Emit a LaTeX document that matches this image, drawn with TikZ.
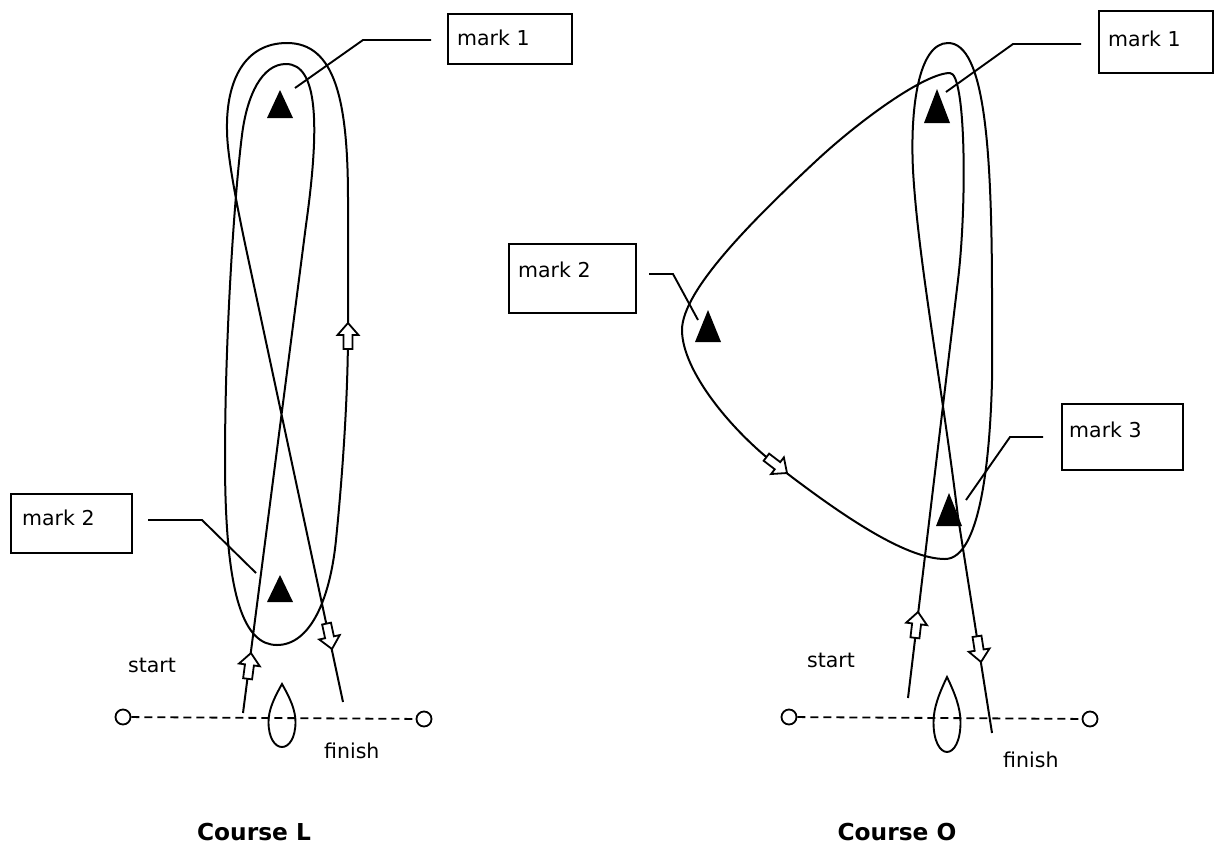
\documentclass[tikz,border=0pt]{standalone}
\usepackage{fontspec}
\setmainfont{DejaVu Sans}
\tikzset{
  course/.style={line width=2pt, line join=round},
  mbox/.style={draw, line width=1.9pt, anchor=north west, inner sep=0pt},
  lbl/.style={anchor=west, inner sep=0pt, font=\fontsize{20.5}{24}\selectfont},
  ttl/.style={inner sep=0pt, font=\fontsize{23.3}{28}\selectfont\bfseries},
  leader/.style={line width=1.9pt},
  buoy/.style={draw, circle, line width=1.8pt, minimum size=15pt, inner sep=0pt, fill=white},
  startline/.style={line width=1.8pt, dash pattern=on 8pt off 5pt},
  blockarr/.pic={\draw[line width=1.8pt, fill=white, line join=miter] (0,0) -- (-12,-10.5) -- (-12,-4.5) -- (-26,-4.5) -- (-26,4.5) -- (-12,4.5) -- (-12,10.5) -- cycle;},
  boat/.pic={\draw[line width=1.9pt] (0,0) .. controls (-8,14) and (-13.5,26) .. (-13.5,38) .. controls (-13.5,54) and (-7,63) .. (0,63) .. controls (7,63) and (13.5,54) .. (13.5,38) .. controls (13.5,26) and (8,14) .. (0,0) -- cycle;}
}
\begin{document}
\begin{tikzpicture}[x=1pt,y=-1pt]
\useasboundingbox (0,0) rectangle (1214,846);

% ================= Course L =================
\node[buoy] (lsA) at (123,717) {};
\node[buoy] (lsB) at (424,719) {};
\draw[startline] (lsA) -- (lsB);
\pic at (282,684) {boat};

\fill (280,90) -- (293,118) -- (267,118) -- cycle;
\fill (280,575) -- (293,602) -- (267,602) -- cycle;

\coordinate (Ls) at (243,713);
\coordinate (Lf) at (343,702);
\draw[course] (Ls) -- (306,225)
  .. controls (320,125) and (318,64) .. (286,64)
  .. controls (262,64) and (247,95) .. (242,135)
  .. controls (235,190) and (225,330) .. (225,460)
  .. controls (225,600) and (245,645) .. (277,645)
  .. controls (310,645) and (330,600) .. (336,540)
  .. controls (342,480) and (348,400) .. (348,330)
  -- (348,200)
  .. controls (348,100) and (335,43) .. (287,43)
  .. controls (245,43) and (226,80) .. (227,130)
  .. controls (227,160) and (241.4,227) .. (250,267)
  -- (Lf);

\pic[rotate=82.5] at (251,653) {blockarr};
\pic[rotate=90] at (348,323) {blockarr};
\pic[rotate=-77.9] at (332,649) {blockarr};

\node[mbox, minimum width=124pt, minimum height=50pt] (lm1box) at (447,13) {};
\node[lbl] (lm1txt) at (457,38) {mark 1};
\coordinate (lm1a) at (295,88);
\coordinate (lm1b) at (363,40);
\coordinate (lm1c) at (431,40);
\draw[leader] (lm1a) -- (lm1b) -- (lm1c);

\node[mbox, minimum width=121pt, minimum height=59pt] (lm2box) at (10,493) {};
\node[lbl] (lm2txt) at (22,518) {mark 2};
\coordinate (lm2a) at (148,520);
\coordinate (lm2b) at (202,520);
\coordinate (lm2c) at (256,573);
\draw[leader] (lm2a) -- (lm2b) -- (lm2c);

\node[lbl] (lstart) at (128,665) {start};
\node[lbl] (lfinish) at (324,751) {finish};
\node[ttl] (ltitle) at (254,832) {Course L};

% ================= Course O =================
\node[buoy] (rsA) at (789,717) {};
\node[buoy] (rsB) at (1090,719) {};
\draw[startline] (rsA) -- (rsB);
\pic[yscale=1.19] at (947,677) {boat};

\fill (937,89) -- (950,123) -- (924,123) -- cycle;
\fill (708,310) -- (721,342) -- (695,342) -- cycle;
\fill (949,493) -- (962,526) -- (936,526) -- cycle;

\coordinate (Rs) at (908,698);
\coordinate (Rf) at (992,733);
\draw[course] (Rs) -- (958,280)
  .. controls (967,205) and (966,73) .. (950,73)
  .. controls (925,73) and (860,120) .. (816,161)
  .. controls (755,218) and (682,290) .. (682,330)
  .. controls (682,370) and (730,430) .. (780,468)
  .. controls (840,514) and (905,559) .. (945,559)
  .. controls (980,559) and (990,460) .. (992,380)
  -- (992,300)
  .. controls (992,150) and (985,43) .. (948,43)
  .. controls (918,43) and (910,110) .. (913,170)
  .. controls (918,260) and (942,385) .. (958,517)
  -- (Rf);

\pic[rotate=83.2] at (918,612) {blockarr};
\pic[rotate=-81.1] at (981,662) {blockarr};
\pic[rotate=-37.5] at (787,473) {blockarr};

\node[mbox, minimum width=114pt, minimum height=62pt] (rm1box) at (1098,10) {};
\node[lbl] (rm1txt) at (1108,39) {mark 1};
\coordinate (rm1a) at (946,92);
\coordinate (rm1b) at (1013,44);
\coordinate (rm1c) at (1081,44);
\draw[leader] (rm1a) -- (rm1b) -- (rm1c);

\node[mbox, minimum width=127pt, minimum height=69pt] (rm2box) at (508,243) {};
\node[lbl] (rm2txt) at (518,270) {mark 2};
\coordinate (rm2a) at (649,274);
\coordinate (rm2b) at (673,274);
\coordinate (rm2c) at (698,320);
\draw[leader] (rm2a) -- (rm2b) -- (rm2c);

\node[mbox, minimum width=121pt, minimum height=66pt] (rm3box) at (1061,403) {};
\node[lbl] (rm3txt) at (1069,430) {mark 3};
\coordinate (rm3a) at (966,500);
\coordinate (rm3b) at (1010,437);
\coordinate (rm3c) at (1043,437);
\draw[leader] (rm3a) -- (rm3b) -- (rm3c);

\node[lbl] (rstart) at (807,660) {start};
\node[lbl] (rfinish) at (1003,760) {finish};
\node[ttl] (rtitle) at (897,832) {Course O};
\end{tikzpicture}
\end{document}
